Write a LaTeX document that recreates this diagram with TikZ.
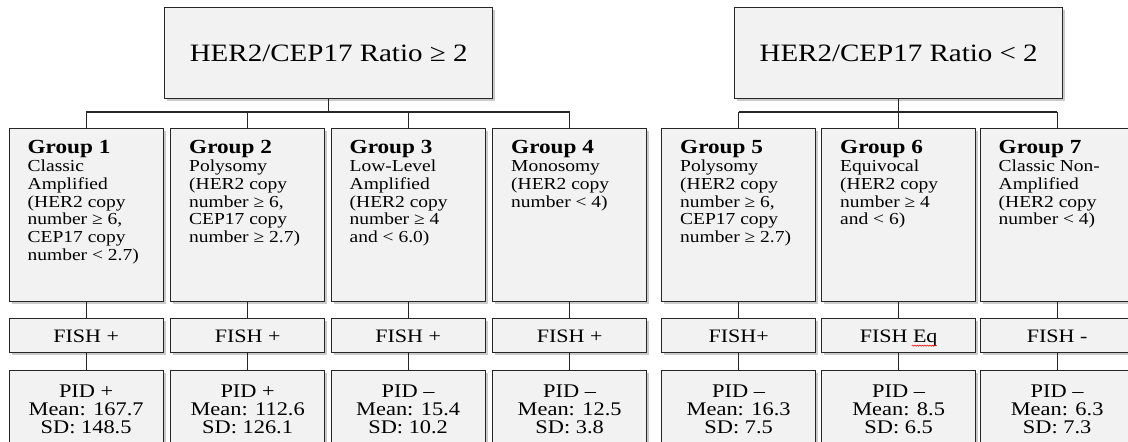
\documentclass[tikz,border=0pt]{standalone}
\usepackage{fontspec}
\setmainfont{Liberation Serif}[FakeStretch=1.16]
\usetikzlibrary{shadows,decorations.pathmorphing}
\definecolor{boxfill}{HTML}{F2F2F2}
\definecolor{edgecol}{HTML}{262626}
\tikzset{
  box/.style={draw=edgecol, line width=1.3pt, fill=boxfill, inner sep=0pt,
    drop shadow={shadow xshift=2.5pt, shadow yshift=-2.5pt, fill=black!40}},
  grpbox/.style={box, anchor=north west, minimum width=154pt, minimum height=173pt},
  fishbox/.style={box, anchor=north west, minimum width=154pt, minimum height=34pt,
    text height=13pt, text depth=0pt, font=\fontsize{19}{21}\selectfont},
  pidbox/.style={box, anchor=north west, minimum width=154pt, minimum height=77pt,
    align=center, font=\fontsize{19.3}{18.3}\selectfont},
  topbox/.style={box, anchor=north west, minimum width=328pt, minimum height=91pt,
    font=\fontsize{25}{28}\selectfont},
  gtext/.style={anchor=north west, inner sep=0pt, align=left,
    font=\fontsize{16.8}{17.7}\selectfont},
  link/.style={draw=edgecol, line width=1.3pt},
}
\newcommand{\ghead}[1]{{\fontsize{20}{17.7}\selectfont\bfseries #1}}
\begin{document}
\begin{tikzpicture}[x=1pt,y=-1pt]
\useasboundingbox (0,0) rectangle (1128,442);
\clip (0,0) rectangle (1128,442);
\fill[white] (0,0) rectangle (1128,442);

% top boxes
\node[topbox] (L) at (164,7) {HER2/CEP17 Ratio ≥ 2};
\node[topbox] (R) at (734,7) {HER2/CEP17 Ratio < 2};

% group boxes
\node[grpbox] (g1) at (8.5,128) {};
\node[grpbox] (g2) at (170,128) {};
\node[grpbox] (g3) at (330.5,128) {};
\node[grpbox] (g4) at (492,128) {};
\node[grpbox] (g5) at (661,128) {};
\node[grpbox] (g6) at (821,128) {};
\node[grpbox] (g7) at (979.5,128) {};

\node[gtext] (t1) at (27.5,140.5) {\ghead{Group 1}\\Classic\\Amplified\\(HER2 copy\\number ≥ 6,\\CEP17 copy\\number < 2.7)};
\node[gtext] (t2) at (189,140.5) {\ghead{Group 2}\\Polysomy\\(HER2 copy\\number ≥ 6,\\CEP17 copy\\number ≥ 2.7)};
\node[gtext] (t3) at (349.5,140.5) {\ghead{Group 3}\\Low-Level\\Amplified\\(HER2 copy\\number ≥ 4\\and < 6.0)};
\node[gtext] (t4) at (511,140.5) {\ghead{Group 4}\\Monosomy\\(HER2 copy\\number < 4)};
\node[gtext] (t5) at (680,140.5) {\ghead{Group 5}\\Polysomy\\(HER2 copy\\number ≥ 6,\\CEP17 copy\\number ≥ 2.7)};
\node[gtext] (t6) at (840,140.5) {\ghead{Group 6}\\Equivocal\\(HER2 copy\\number ≥ 4\\and < 6)};
\node[gtext] (t7) at (998.5,140.5) {\ghead{Group 7}\\Classic Non-\\Amplified\\(HER2 copy\\number < 4)};

% FISH boxes
\node[fishbox] (f1) at (8.5,318) {FISH +};
\node[fishbox] (f2) at (170,318) {FISH +};
\node[fishbox] (f3) at (330.5,318) {FISH +};
\node[fishbox] (f4) at (492,318) {FISH +};
\node[fishbox] (f5) at (661,318) {FISH+};
\node[fishbox] (f6) at (821,318) {FISH Eq};
\node[fishbox] (f7) at (979.5,318) {FISH -};
\draw[red, line width=0.5pt, decorate, decoration={snake, amplitude=0.6pt, segment length=2.5pt}]
  ([xshift=13pt,yshift=-10pt]f6.center) -- ([xshift=38pt,yshift=-10pt]f6.center);

% PID boxes
\node[pidbox] (p1) at (8.5,370) {PID +\\Mean: 167.7\\SD: 148.5};
\node[pidbox] (p2) at (170,370) {PID +\\Mean: 112.6\\SD: 126.1};
\node[pidbox] (p3) at (330.5,370) {PID –\\Mean: 15.4\\SD: 10.2};
\node[pidbox] (p4) at (492,370) {PID –\\Mean: 12.5\\SD: 3.8};
\node[pidbox] (p5) at (661,370) {PID –\\Mean: 16.3\\SD: 7.5};
\node[pidbox] (p6) at (821,370) {PID –\\Mean: 8.5\\SD: 6.5};
\node[pidbox] (p7) at (979.5,370) {PID –\\Mean: 6.3\\SD: 7.3};

% connectors
\coordinate (lbar) at (0,112);
\draw[link] (L.south) -- (L.south |- lbar);
\draw[link] (g1.north |- lbar) -- (g4.north |- lbar);
\foreach \g in {g1,g2,g3,g4} \draw[link] (\g.north |- lbar) -- (\g.north);
\draw[link] (R.south) -- (R.south |- lbar);
\draw[link] (g5.north |- lbar) -- (g7.north |- lbar);
\foreach \g in {g5,g6,g7} \draw[link] (\g.north |- lbar) -- (\g.north);
\foreach \i in {1,...,7} {
  \draw[link] (g\i.south) -- (f\i.north);
  \draw[link] (f\i.south) -- (p\i.north);
}
\end{tikzpicture}
\end{document}
